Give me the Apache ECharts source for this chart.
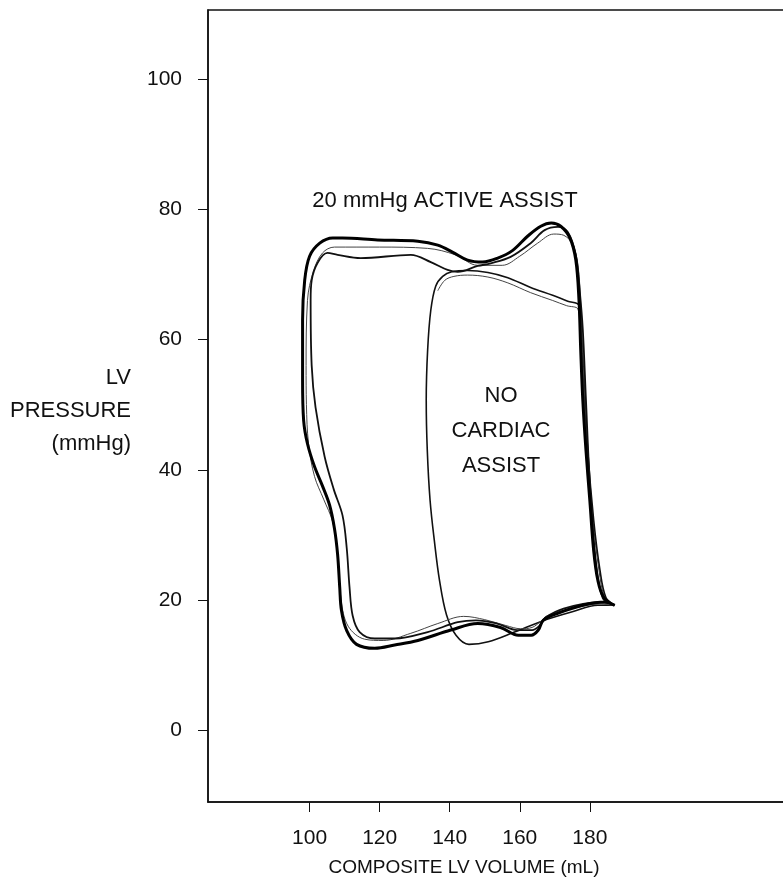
<!DOCTYPE html>
<html>
<head>
<meta charset="utf-8">
<script src="https://cdn.jsdelivr.net/npm/echarts@6/dist/echarts.min.js"></script>
<style>
  html, body { margin: 0; padding: 0; background: #fff; }
  #chart { width: 783px; height: 894px; }
</style>
</head>
<body>
<div id="chart"></div>
<script>
// ticks
var xTicks = [100, 120, 140, 160, 180];
var yTicks = [0, 20, 40, 60, 80, 100];

// active assist, beat 1 (heavy line) [volume mL, pressure mmHg]
var assist1 = [
  [187.1, 19.2], [184, 20.4], [182.3, 23], [181.1, 27.6], [180, 35.3], [178.9, 43], [178, 50.7],
  [177.4, 58.4], [176.9, 66.1], [176, 72.2], [174.3, 75.6], [171.7, 77.4], [169, 77.9], [166, 77.4],
  [162.3, 75.9], [158, 73.7], [153.7, 72.5], [149.4, 71.9], [145.1, 72.2], [140.9, 73.4], [136.6, 74.5],
  [130.9, 75.1], [119.4, 75.3], [109.4, 75.6], [106.6, 75.6], [102.9, 74.8], [100, 72.8], [98.6, 69.1],
  [98, 63], [98, 53.8], [98.3, 47.6], [99.4, 44], [101.4, 40.5], [103.7, 37.5], [105.7, 34.6],
  [107.1, 31], [108, 27], [108.6, 22], [109.1, 18.4], [110.6, 15.3], [113.4, 13.2], [118.6, 12.6],
  [124.3, 13.1], [130.9, 13.8], [140.3, 15.4], [148, 16.4], [154.5, 15.8], [159.6, 14.6],
  [163.3, 14.6], [165.3, 15.4], [166.7, 16.9], [171, 18], [178, 19.2], [184.3, 19.7], [187.1, 19.2]
];

// active assist, beat 2 (inner loop, lower ejection line)
var assist2 = [
  [186.6, 19.4], [183.7, 20.3], [181.7, 26], [180, 38], [178.9, 50.7], [178, 61.5], [177.1, 67.6],
  [176, 73], [173.7, 76.5], [170.9, 77.3], [167.1, 76.8], [163.1, 74.8], [157.4, 72.7], [151.7, 71.7],
  [148, 71.3], [142.3, 70.4], [139.4, 70.7], [134.6, 71.9], [128.9, 73], [114.6, 72.5], [108, 73],
  [105.1, 73.3], [102.3, 71.8], [100.6, 69.1], [100.3, 66.1], [100.6, 56], [101.7, 49.6],
  [104.3, 42], [106.9, 37], [109.4, 33], [110.6, 28], [111.4, 22], [112.3, 17.6], [114.3, 15.1],
  [118.6, 14.1], [124.3, 14.1], [133.7, 15.1], [142.3, 16.6], [147.5, 16.9], [153.5, 16.4],
  [159.3, 15.4], [163.5, 15.4], [165.7, 16.1], [167.3, 17.3], [172.5, 18.7], [182.3, 19.7], [186.6, 19.4]
];

// active assist, beat 3 (fine line close to beat 1)
var assist3 = [
  [186.6, 19.2], [184, 20.2], [182, 24], [180.6, 33], [179.4, 43], [178.3, 53.8], [177.6, 62],
  [176.9, 70], [175.4, 74.3], [172.6, 76], [169.7, 76.2], [165.1, 74.8], [160, 72.8], [155, 71.4],
  [148, 71.4], [141.7, 73], [133.7, 74], [120, 74.2], [107.1, 74.2], [103.7, 73.3], [101.1, 70.5],
  [99.4, 66], [99, 56], [99.1, 50], [99.7, 44], [101.4, 39], [104, 35.5], [106.6, 32], [108, 27],
  [109, 20], [111, 16], [115.7, 14], [121, 13.8], [128.9, 14.9], [136.6, 16.4], [144, 17.5],
  [150, 17], [156, 16.1], [160.3, 15.6], [163.5, 15.8], [165.7, 16.6], [167.8, 17.6],
  [175, 18.7], [182.9, 19.4], [186.6, 19.2]
];

// no cardiac assist, two beats
var noAssist1 = [
  [187.1, 19.2], [184.6, 20.4], [182.9, 24.6], [181.1, 32.3], [179.4, 43], [178.3, 53.8],
  [177.4, 63], [176.9, 65.3], [173.7, 65.9], [169.4, 66.8], [163.1, 68], [156.6, 69.5],
  [150.9, 70.3], [145.1, 70.6], [140.6, 70.4], [138, 69.7], [136, 68.2], [134.6, 64.5],
  [133.7, 58.4], [133.3, 50.7], [133.6, 43], [134.4, 35.3], [135.6, 29.2], [137.1, 23],
  [139.1, 17.7], [141.8, 14.6], [145.5, 13.2], [151, 13.6], [158.5, 15.1], [166.5, 16.8],
  [175, 18.2], [182.3, 19.2], [187.1, 19.2]
];
var noAssist2 = [
  [186.6, 19.3], [184.3, 20.3], [182.6, 24.6], [180.9, 32.3], [179.1, 43], [178, 53.8],
  [177.1, 62.4], [176.6, 64.7], [173.4, 65.2], [169.4, 66], [163.1, 67.2], [156.6, 68.7],
  [150.9, 69.6], [145.1, 69.9], [141.2, 69.7], [138.6, 69.1], [136.6, 67.5]
];

var lineBase = { type: 'line', showSymbol: false, symbol: 'none', smooth: 0.35, silent: true };
function loop(data, width, color) {
  return Object.assign({}, lineBase, { data: data, lineStyle: { width: width, color: color } });
}

var font = '"Liberation Sans", Arial, sans-serif';
var chart = echarts.init(document.getElementById('chart'), null, { renderer: 'canvas' });

chart.setOption({
  animation: false,
  backgroundColor: '#fff',
  textStyle: { fontFamily: font, color: '#111' },
  grid: {
    left: 208, top: 10, right: -17, bottom: 92,
    outerBoundsMode: 'none', containLabel: false,
    show: true, borderColor: '#111', borderWidth: 1.5
  },
  xAxis: {
    type: 'value', min: 71, max: 240,
    name: 'COMPOSITE LV VOLUME (mL)', nameLocation: 'middle', nameGap: 56,
    nameTextStyle: { fontFamily: font, fontSize: 19, color: '#111', padding: [0, 80, 0, 0] },
    axisLine: { onZero: false, lineStyle: { color: '#111', width: 1.5 } },
    axisTick: { length: 10, customValues: xTicks, lineStyle: { color: '#111' } },
    axisLabel: { customValues: xTicks, margin: 26, fontFamily: font, fontSize: 21, color: '#111' },
    splitLine: { show: false }
  },
  yAxis: {
    type: 'value', min: -11, max: 110.6,
    axisLine: { onZero: false, lineStyle: { color: '#111', width: 1.5 } },
    axisTick: { length: 10, customValues: yTicks, lineStyle: { color: '#111' } },
    axisLabel: { customValues: yTicks, margin: 26, fontFamily: font, fontSize: 21, color: '#111' },
    splitLine: { show: false }
  },
  graphic: [
    // y axis title
    { type: 'text', x: 131, y: 411, style: { text: 'LV\nPRESSURE\n(mmHg)', font: '22px ' + font, fill: '#111', textAlign: 'right', textVerticalAlign: 'middle', lineHeight: 33 } },
    { type: 'text', x: 445, y: 201, style: { text: '20 mmHg ACTIVE ASSIST', font: '22px ' + font, fill: '#111', textAlign: 'center', textVerticalAlign: 'middle' } },
    { type: 'text', x: 501, y: 431, style: { text: 'NO\nCARDIAC\nASSIST', font: '22px ' + font, fill: '#111', textAlign: 'center', textVerticalAlign: 'middle', lineHeight: 35 } }
  ],
  series: [
    loop(noAssist2, 1, '#444'),
    loop(noAssist1, 1.6, '#111'),
    loop(assist3, 1, '#444'),
    loop(assist2, 1.8, '#111'),
    loop(assist1, 3, '#000')
  ]
});
</script>
</body>
</html>
